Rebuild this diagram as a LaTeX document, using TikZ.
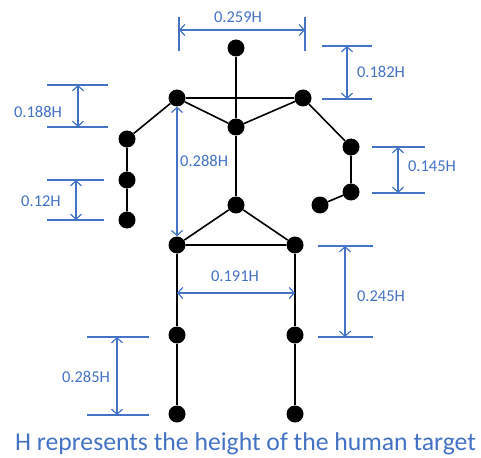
\documentclass[tikz,border=0pt]{standalone}
\usepackage{fontspec}
\setmainfont{Carlito}
\usepackage{tikz}
\usetikzlibrary{arrows.meta}
\definecolor{dimblue}{HTML}{4472C4}
\newcommand{\barb}{Straight Barb[length=5pt, width=11pt]}

\begin{document}
\begin{tikzpicture}[x=1pt,y=-1pt,
    joint/.style={shape=circle,fill=black,inner sep=0pt,minimum size=17pt},
    bone/.style={line width=1.6pt},
    dimline/.style={draw=dimblue,line width=1.2pt},
    dimarrow/.style={dimline,{\barb}-{\barb}},
    dimlabel/.style={text=dimblue,inner sep=0pt,font=\fontsize{16.5}{19}\selectfont}]
    \useasboundingbox (0,0) rectangle (481,457);

    % skeleton joints
    \node[joint] (head) at (236,48) {};
    \node[joint] (neck) at (236,127) {};
    \node[joint] (lsho) at (177,98) {};
    \node[joint] (rsho) at (303,98) {};
    \node[joint] (lelb) at (127,139) {};
    \node[joint] (lwri) at (127,180) {};
    \node[joint] (lhnd) at (127,220) {};
    \node[joint] (relb) at (351,147) {};
    \node[joint] (rwri) at (351,192) {};
    \node[joint] (rhnd) at (320,205) {};
    \node[joint] (spine) at (236,205) {};
    \node[joint] (lhip) at (177,245) {};
    \node[joint] (rhip) at (295,245) {};
    \node[joint] (lkne) at (177,335) {};
    \node[joint] (rkne) at (295,335) {};
    \node[joint] (lank) at (177,414) {};
    \node[joint] (rank) at (295,414) {};

    % bones
    \draw [bone] (head) -- (neck) -- (spine);
    \draw [bone] (lsho) -- (rsho);
    \draw [bone] (lsho) -- (neck) -- (rsho);
    \draw [bone] (lsho) -- (lelb) -- (lwri) -- (lhnd);
    \draw [bone] (rsho) -- (relb) -- (rwri) -- (rhnd);
    \draw [bone] (lhip) -- (spine) -- (rhip) -- (lhip);
    \draw [bone] (lhip) -- (lkne) -- (lank);
    \draw [bone] (rhip) -- (rkne) -- (rank);

    % shoulder width
    \draw [dimline] (179,17) -- (179,51);
    \draw [dimline] (305,17) -- (305,51);
    \coordinate (sw1) at (179,30);
    \coordinate (sw2) at (305,30);
    \draw [dimarrow] (sw1) -- (sw2);
    \node[dimlabel] (sw) at (238,17) {0.259H};

    % head to shoulder
    \draw [dimline] (322,46) -- (372,46);
    \draw [dimline] (322,99) -- (372,99);
    \coordinate (hs1) at (347,46);
    \coordinate (hs2) at (347,99);
    \draw [dimarrow] (hs1) -- (hs2);
    \node[dimlabel] (hs) at (381,72) {0.182H};

    % upper arm
    \draw [dimline] (47,85) -- (108,85);
    \draw [dimline] (47,127) -- (108,127);
    \coordinate (ua1) at (78,85);
    \coordinate (ua2) at (78,127);
    \draw [dimarrow] (ua1) -- (ua2);
    \node[dimlabel] (ua) at (38,112) {0.188H};

    % forearm
    \draw [dimline] (47,180) -- (104,180);
    \draw [dimline] (47,220) -- (104,220);
    \coordinate (fa1) at (76,180);
    \coordinate (fa2) at (76,220);
    \draw [dimarrow] (fa1) -- (fa2);
    \node[dimlabel] (fa) at (41,201) {0.12H};

    % hand
    \draw [dimline] (372,147) -- (425,147);
    \draw [dimline] (372,193) -- (425,193);
    \coordinate (hd1) at (398,147);
    \coordinate (hd2) at (398,193);
    \draw [dimarrow] (hd1) -- (hd2);
    \node[dimlabel] (hd) at (432,166) {0.145H};

    % torso
    \draw [dimarrow] (lsho) -- (lhip);
    \node[dimlabel,anchor=west] (to) at (180,161) {0.288H};

    % hip width
    \coordinate (hw1) at (177,293);
    \coordinate (hw2) at (295,293);
    \draw [dimarrow] (hw1) -- (hw2);
    \node[dimlabel] (hw) at (235,276) {0.191H};

    % thigh
    \draw [dimline] (318,246) -- (373,246);
    \draw [dimline] (318,337) -- (373,337);
    \coordinate (th1) at (345,246);
    \coordinate (th2) at (345,337);
    \draw [dimarrow] (th1) -- (th2);
    \node[dimlabel] (th) at (381,296) {0.245H};

    % shank
    \draw [dimline] (87,337) -- (149,337);
    \draw [dimline] (87,415) -- (149,415);
    \coordinate (sh1) at (117,337);
    \coordinate (sh2) at (117,415);
    \draw [dimarrow] (sh1) -- (sh2);
    \node[dimlabel] (sh) at (86,377) {0.285H};

    \node[text=dimblue,inner sep=0pt,anchor=base,font=\fontsize{25.7}{29}\selectfont] (caption) at (245.5,450) {H represents the height of the human target};
\end{tikzpicture}
\end{document}
